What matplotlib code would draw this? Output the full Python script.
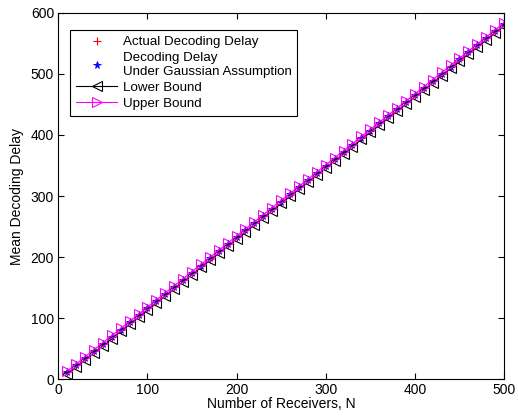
import matplotlib
matplotlib.use("Agg")
import matplotlib.pyplot as plt

plt.rcParams['font.family'] = ['Liberation Sans', 'DejaVu Sans']

receivers = [10, 20, 30, 40, 50, 60, 70, 80, 90, 100,
             110, 120, 130, 140, 150, 160, 170, 180, 190, 200,
             210, 220, 230, 240, 250, 260, 270, 280, 290, 300,
             310, 320, 330, 340, 350, 360, 370, 380, 390, 400,
             410, 420, 430, 440, 450, 460, 470, 480, 490, 500]

actual_delay = [11.5, 23.2, 34.8, 46.4, 58.1, 69.7, 81.3, 93.0, 104.6, 116.3,
                127.9, 139.5, 151.2, 162.8, 174.4, 186.1, 197.7, 209.3, 221.0, 232.6,
                244.2, 255.9, 267.5, 279.1, 290.8, 302.4, 314.0, 325.7, 337.3, 348.9,
                360.6, 372.2, 383.8, 395.5, 407.1, 418.7, 430.4, 442.0, 453.6, 465.3,
                476.9, 488.5, 500.2, 511.8, 523.4, 535.1, 546.7, 558.3, 570.0, 581.6]

gaussian_delay = [11.6, 23.3, 34.9, 46.5, 58.2, 69.8, 81.4, 93.1, 104.7, 116.4,
                  128.0, 139.6, 151.3, 162.9, 174.5, 186.2, 197.8, 209.4, 221.1, 232.7,
                  244.3, 256.0, 267.6, 279.2, 290.9, 302.5, 314.1, 325.8, 337.4, 349.0,
                  360.7, 372.3, 383.9, 395.6, 407.2, 418.8, 430.5, 442.1, 453.7, 465.4,
                  477.0, 488.6, 500.3, 511.9, 523.5, 535.2, 546.8, 558.4, 570.1, 581.7]

lower_bound = [8.5, 20.2, 31.8, 43.4, 55.1, 66.7, 78.3, 90.0, 101.6, 113.3,
               124.9, 136.5, 148.2, 159.8, 171.4, 183.1, 194.7, 206.3, 218.0, 229.6,
               241.2, 252.9, 264.5, 276.1, 287.8, 299.4, 311.0, 322.7, 334.3, 345.9,
               357.6, 369.2, 380.8, 392.5, 404.1, 415.7, 427.4, 439.0, 450.6, 462.3,
               473.9, 485.5, 497.2, 508.8, 520.4, 532.1, 543.7, 555.3, 567.0, 578.6]

upper_bound = [13.5, 25.2, 36.8, 48.4, 60.1, 71.7, 83.3, 95.0, 106.6, 118.3,
               129.9, 141.5, 153.2, 164.8, 176.4, 188.1, 199.7, 211.3, 223.0, 234.6,
               246.2, 257.9, 269.5, 281.1, 292.8, 304.4, 316.0, 327.7, 339.3, 350.9,
               362.6, 374.2, 385.8, 397.5, 409.1, 420.7, 432.4, 444.0, 455.6, 467.3,
               478.9, 490.5, 502.2, 513.8, 525.4, 537.1, 548.7, 560.3, 572.0, 583.6]

FS = 10
LEG_FS = 9.6

fig = plt.figure(figsize=(5.18, 4.17), dpi=100)
ax = fig.add_axes([0.1125, 0.0904, 0.8605, 0.8791])

ax.plot(receivers, actual_delay, linestyle='none', marker='+', color='red',
        markersize=6, markeredgewidth=0.8, label='Actual Decoding Delay')
ax.plot(receivers, gaussian_delay, linestyle='none', marker='*', color='blue',
        markersize=5.5, markeredgewidth=0.6,
        label='Decoding Delay\nUnder Gaussian Assumption')
ax.plot(receivers, lower_bound, color='black', marker='<', markersize=6.5,
        markerfacecolor='none', linewidth=0.8, markeredgewidth=0.8, label='Lower Bound')
ax.plot(receivers, upper_bound, color='magenta', marker='>', markersize=6.5,
        markerfacecolor='none', linewidth=0.8, markeredgewidth=0.8, label='Upper Bound')

ax.set_xlim(0, 500)
ax.set_ylim(0, 600)
ax.set_xticks([0, 100, 200, 300, 400, 500])
ax.set_yticks([0, 100, 200, 300, 400, 500, 600])
ax.tick_params(direction='in', top=True, right=True, length=4, width=0.8,
               labelsize=FS, pad=3)
for s in ax.spines.values():
    s.set_linewidth(0.8)

ax.set_xlabel('Number of Receivers, N', fontsize=FS, labelpad=0)
ax.set_ylabel('Mean Decoding Delay', fontsize=FS, labelpad=5)

leg = ax.legend(loc='upper left', bbox_to_anchor=(0.026, 0.953), fontsize=LEG_FS,
                frameon=True, fancybox=False, edgecolor='black', framealpha=1,
                handlelength=3.1, handletextpad=0.4, borderpad=0.45,
                labelspacing=0.28, borderaxespad=0)
leg.get_frame().set_linewidth(0.8)

fig.savefig('out.png', dpi=100)
